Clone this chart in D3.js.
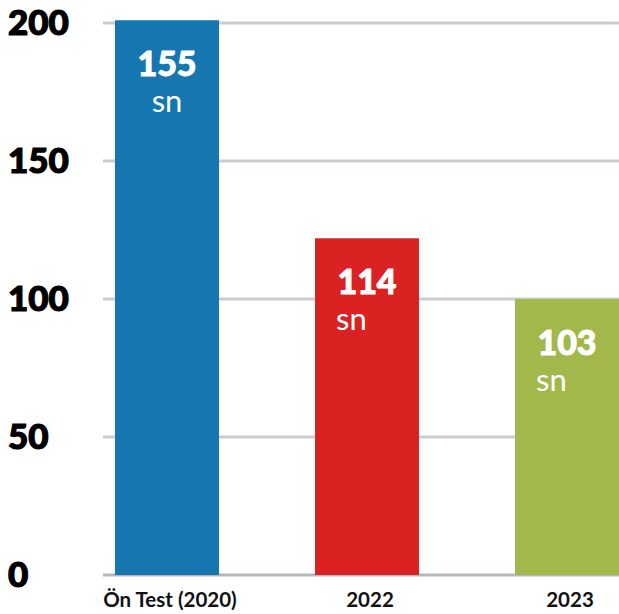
<!DOCTYPE html>
<html>
<head>
<meta charset="utf-8">
<script src="https://cdn.jsdelivr.net/npm/d3@7"></script>
<style>
  html, body { margin: 0; padding: 0; background: #fff; }
  svg { display: block; font-family: Lato, "Open Sans", sans-serif; }
</style>
</head>
<body>
<svg id="chart" width="619" height="614"></svg>
<script>
// ==== Data ====
const categories = ["Ön Test (2020)", "2022", "2023"];
const barValues = [201, 122, 100];          // bar heights as drawn
const valueLabels = ["155", "114", "103"]; // printed labels
const unitLabel = "sn";
const yTicks = [0, 50, 100, 150, 200];
const colors = ["#1576b0", "#da2222", "#a2b84a"];

// ==== Layout ====
const W = 619, H = 614;
const svg = d3.select("#chart");

const x = d3.scaleBand()
  .domain(categories)
  .range([99, 635])
  .paddingInner(0.48)
  .paddingOuter(0.08);

const y = d3.scaleLinear().domain([0, 200]).range([575, 23]);

// gridlines
svg.append("g").selectAll("line")
  .data(yTicks)
  .join("line")
  .attr("x1", 103).attr("x2", W)
  .attr("y1", d => y(d)).attr("y2", d => y(d))
  .attr("stroke", d => d === 0 ? "#b4b8bc" : "#c9ccd0")
  .attr("stroke-width", 3);

// y tick labels
svg.append("g").selectAll("text")
  .data(yTicks)
  .join("text")
  .attr("x", 8)
  .attr("y", d => y(d) - 2)
  .attr("dominant-baseline", "central")
  .attr("font-size", 35)
  .attr("font-weight", 900)
  .attr("fill", "#000")
  .attr("stroke", "#000")
  .attr("stroke-width", 1.2)
  .text(d => d);

// bars
svg.append("g").selectAll("rect")
  .data(barValues)
  .join("rect")
  .attr("x", (d, i) => x(categories[i]))
  .attr("y", d => y(d))
  .attr("width", x.bandwidth())
  .attr("height", d => y(0) - y(d))
  .attr("fill", (d, i) => colors[i]);

// value labels inside bars
const lbl = svg.append("g").selectAll("g")
  .data(barValues)
  .join("g")
  .attr("transform", (d, i) => `translate(${x(categories[i]) + x.bandwidth() / 2},${y(d)})`);

lbl.append("text")
  .attr("y", 56)
  .attr("text-anchor", "middle")
  .attr("font-size", 34)
  .attr("font-weight", 900)
  .attr("fill", "#fff")
  .attr("stroke", "#fff")
  .attr("stroke-width", 1)
  .text((d, i) => valueLabels[i]);

lbl.append("text")
  .attr("x", (d, i) => i === 0 ? 0 : -31)
  .attr("y", 92)
  .attr("text-anchor", (d, i) => i === 0 ? "middle" : "start")
  .attr("font-size", 31)
  .attr("font-weight", 400)
  .attr("fill", "#fff")
  .text(unitLabel);

// x labels
svg.append("g").selectAll("text")
  .data(categories)
  .join("text")
  .attr("x", d => x(d) + x.bandwidth() / 2 + 3)
  .attr("y", 607)
  .attr("text-anchor", "middle")
  .attr("font-size", 20.5)
  .attr("font-weight", 700)
  .attr("fill", "#111")
  .text(d => d);
</script>
</body>
</html>
